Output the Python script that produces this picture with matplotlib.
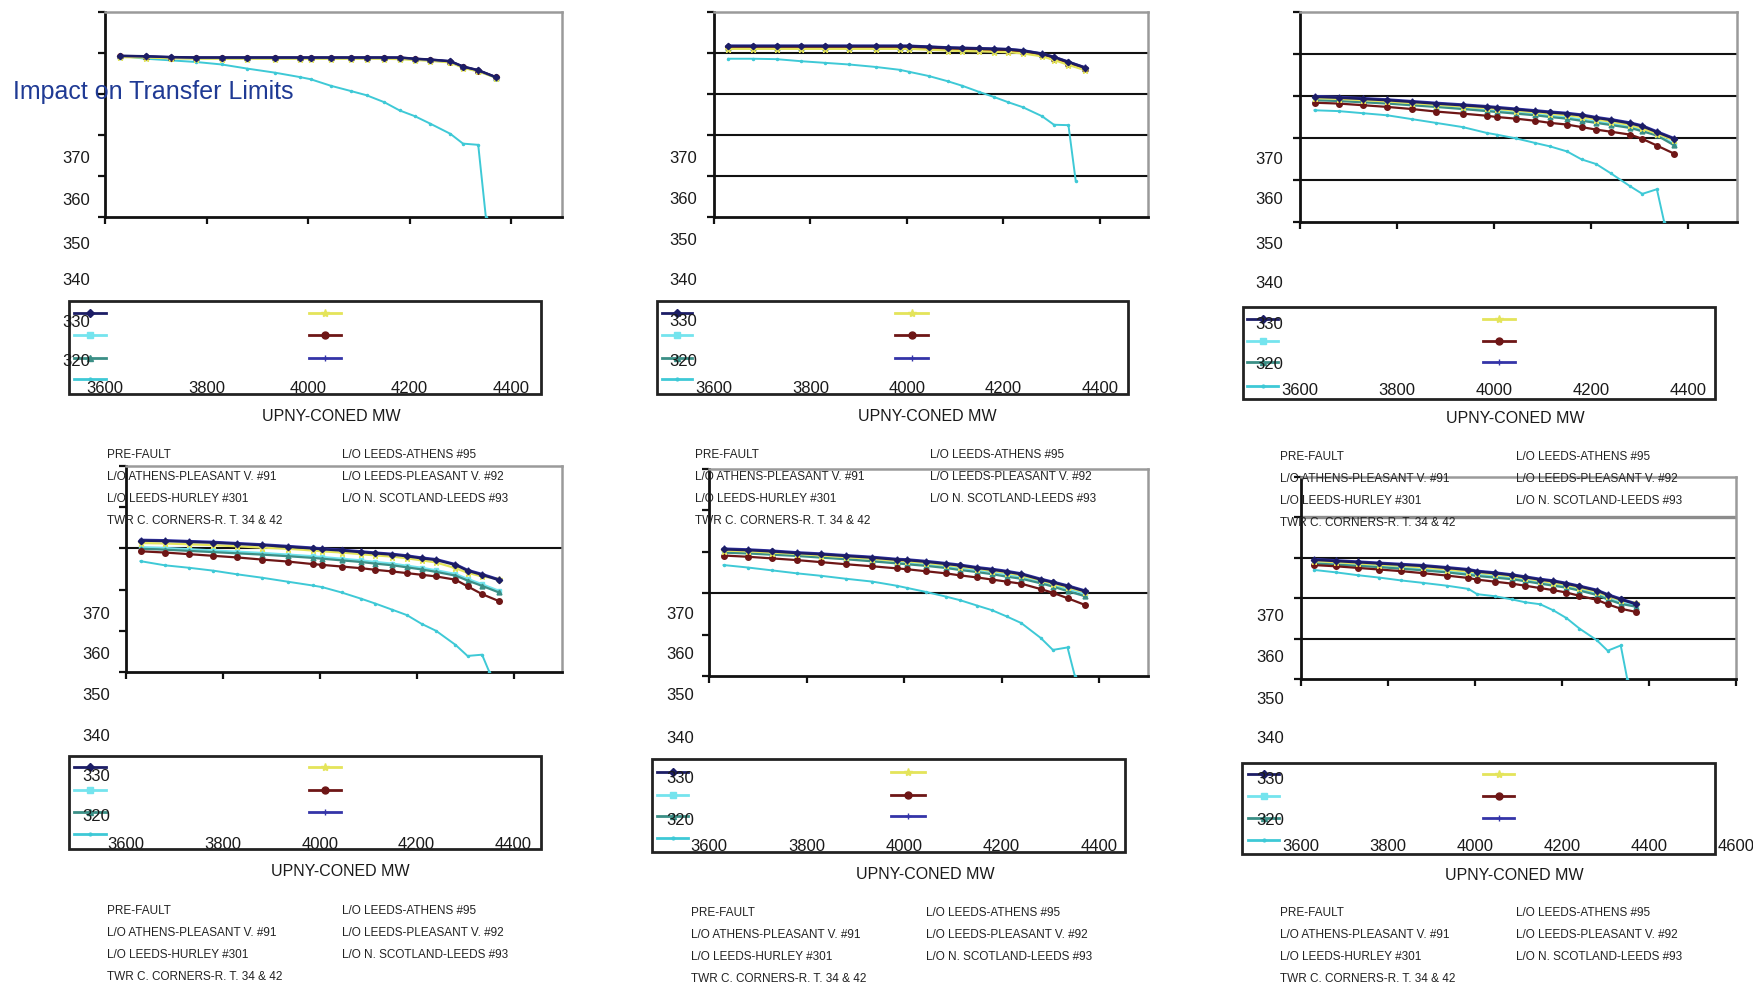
import matplotlib
matplotlib.use('Agg')
import matplotlib.pyplot as plt
import matplotlib.lines as lines
import matplotlib.transforms as mtransforms

plt.rcParams['font.family'] = ['Liberation Sans', 'DejaVu Sans']

W, H = 1753, 987

# ---- data -------------------------------------------------------------
x_mw = [3630, 3680, 3730, 3780, 3830, 3880, 3935, 3985, 4005, 4045,
        4085, 4115, 4150, 4180, 4210, 4240, 4280, 4305, 4335, 4370]
x_twr = [3630, 3680, 3730, 3780, 3830, 3880, 3935, 3985, 4005, 4045,
         4085, 4115, 4150, 4180, 4210, 4240, 4280, 4305, 4335, 4350]

y_ticks = [350, 360, 370, 380, 390, 400]
x_ticks = [3600, 3800, 4000, 4200, 4400]
x_ticks_wide = [3600, 3800, 4000, 4200, 4400, 4600]
float_labels = ['370', '360', '350', '340', '330', '320']

PRE = 'PRE-FAULT'
ATH_PL = 'L/O ATHENS-PLEASANT V. #91'
HURLEY = 'L/O LEEDS-HURLEY #301'
TWR = 'TWR C. CORNERS-R. T. 34 & 42'
ATHENS = 'L/O LEEDS-ATHENS #95'
PLEASANT = 'L/O LEEDS-PLEASANT V. #92'
SCOTLAND = 'L/O N. SCOTLAND-LEEDS #93'
left_names = [PRE, ATH_PL, HURLEY, TWR]
right_names = [ATHENS, PLEASANT, SCOTLAND]

# panel a
pre_a = [389.3, 389.2, 389.0, 388.9, 388.9, 388.9, 388.9, 388.9, 388.9, 388.9, 388.9, 388.9, 388.9, 388.9, 388.6, 388.4, 388.0, 386.7, 385.8, 384.1]
athpl_a = [389.1, 389.0, 388.8, 388.7, 388.7, 388.7, 388.7, 388.7, 388.7, 388.7, 388.7, 388.7, 388.7, 388.6, 388.4, 388.2, 387.8, 386.5, 385.6, 384.0]
hurley_a = [389.2, 389.1, 388.9, 388.8, 388.8, 388.8, 388.8, 388.8, 388.8, 388.8, 388.8, 388.8, 388.8, 388.7, 388.5, 388.3, 387.9, 386.6, 385.7, 384.0]
twr_a = [389.3, 388.6, 388.2, 387.8, 387.2, 386.2, 385.2, 384.1, 383.6, 382.0, 380.7, 379.7, 378.0, 376.0, 374.6, 372.8, 370.3, 367.9, 367.6, 350.0]
athens_a = [389.0, 388.9, 388.7, 388.6, 388.6, 388.6, 388.6, 388.6, 388.6, 388.6, 388.6, 388.6, 388.6, 388.5, 388.3, 388.1, 387.7, 386.4, 385.5, 384.0]
pleasant_a = [389.2, 389.1, 388.9, 388.8, 388.8, 388.8, 388.8, 388.8, 388.8, 388.8, 388.8, 388.8, 388.8, 388.7, 388.5, 388.3, 387.9, 386.6, 385.7, 384.1]
scotland_a = [389.3, 389.2, 389.0, 388.9, 388.9, 388.9, 388.9, 388.9, 388.9, 388.9, 388.9, 388.9, 388.9, 388.9, 388.6, 388.4, 388.0, 386.7, 385.8, 384.1]

# panel b
pre_b = [391.7, 391.7, 391.7, 391.7, 391.7, 391.7, 391.7, 391.7, 391.7, 391.5, 391.3, 391.2, 391.1, 391.0, 390.9, 390.6, 389.8, 389.0, 387.8, 386.4]
athpl_b = [391.5, 391.5, 391.5, 391.5, 391.5, 391.5, 391.5, 391.5, 391.5, 391.3, 391.1, 391.0, 390.9, 390.8, 390.7, 390.4, 389.6, 388.7, 387.5, 386.2]
hurley_b = [391.3, 391.3, 391.3, 391.3, 391.3, 391.3, 391.3, 391.3, 391.3, 391.1, 390.9, 390.8, 390.7, 390.6, 390.5, 390.2, 389.4, 388.5, 387.3, 386.0]
twr_b = [388.6, 388.6, 388.5, 388.0, 387.6, 387.2, 386.6, 385.9, 385.4, 384.4, 383.1, 382.0, 380.5, 379.3, 378.0, 376.8, 374.6, 372.5, 372.4, 358.9]
athens_b = [391.0, 391.0, 391.0, 391.0, 391.0, 391.0, 391.0, 391.0, 391.0, 390.8, 390.6, 390.5, 390.4, 390.3, 390.2, 389.9, 389.2, 388.3, 387.1, 385.8]
pleasant_b = [391.4, 391.4, 391.4, 391.4, 391.4, 391.4, 391.4, 391.4, 391.4, 391.2, 391.0, 390.9, 390.8, 390.7, 390.6, 390.3, 389.5, 388.6, 387.4, 386.1]
scotland_b = [391.8, 391.8, 391.8, 391.8, 391.8, 391.8, 391.8, 391.8, 391.8, 391.6, 391.4, 391.3, 391.2, 391.1, 391.0, 390.7, 389.9, 389.1, 387.9, 386.5]

# panel c
pre_c = [379.8, 379.6, 379.3, 379.0, 378.6, 378.2, 377.8, 377.4, 377.2, 376.8, 376.4, 376.1, 375.8, 375.4, 374.8, 374.3, 373.5, 372.8, 371.4, 369.8]
athpl_c = [379.3, 379.1, 378.8, 378.5, 378.1, 377.7, 377.2, 376.7, 376.5, 376.1, 375.7, 375.3, 374.9, 374.4, 373.9, 373.4, 372.7, 371.9, 370.9, 368.6]
hurley_c = [379.0, 378.8, 378.5, 378.2, 377.8, 377.4, 376.9, 376.4, 376.2, 375.8, 375.4, 375.0, 374.6, 374.1, 373.6, 373.1, 372.4, 371.6, 370.6, 368.3]
twr_c = [376.6, 376.4, 375.9, 375.4, 374.5, 373.6, 372.6, 371.2, 370.8, 369.9, 368.8, 368.0, 366.8, 364.9, 363.8, 361.6, 358.5, 356.7, 357.8, 350.0]
athens_c = [379.5, 379.3, 379.0, 378.7, 378.3, 377.9, 377.5, 377.1, 376.9, 376.5, 376.1, 375.8, 375.4, 375.0, 374.4, 373.9, 373.1, 372.3, 371.0, 369.5]
pleasant_c = [378.4, 378.2, 377.8, 377.4, 376.9, 376.3, 375.8, 375.3, 375.0, 374.6, 374.1, 373.6, 373.2, 372.6, 372.0, 371.5, 370.8, 369.8, 368.2, 366.3]
scotland_c = [380.0, 379.8, 379.5, 379.2, 378.8, 378.4, 378.0, 377.6, 377.4, 377.0, 376.6, 376.3, 376.0, 375.6, 375.0, 374.5, 373.7, 373.0, 371.6, 370.0]

# panel d
pre_d = [381.9, 381.8, 381.6, 381.4, 381.1, 380.8, 380.4, 380.0, 379.8, 379.5, 379.1, 378.8, 378.5, 378.1, 377.6, 377.2, 376.0, 374.6, 373.6, 372.3]
athpl_d = [380.3, 380.1, 379.8, 379.5, 379.2, 378.9, 378.5, 378.1, 377.9, 377.5, 377.1, 376.7, 376.3, 375.8, 375.3, 374.7, 373.8, 372.6, 371.3, 369.7]
hurley_d = [379.9, 379.7, 379.4, 379.1, 378.8, 378.5, 378.1, 377.7, 377.5, 377.1, 376.7, 376.3, 375.9, 375.4, 374.9, 374.3, 373.4, 372.2, 370.9, 369.3]
twr_d = [376.9, 375.9, 375.3, 374.6, 373.7, 372.9, 371.9, 371.0, 370.6, 369.3, 367.8, 366.6, 365.1, 363.8, 361.7, 360.0, 356.6, 353.9, 354.2, 350.0]
athens_d = [381.3, 381.2, 381.0, 380.8, 380.5, 380.2, 379.9, 379.5, 379.3, 379.0, 378.6, 378.3, 378.0, 377.6, 377.1, 376.6, 375.2, 374.1, 373.2, 372.6]
pleasant_d = [379.3, 379.0, 378.6, 378.2, 377.8, 377.3, 376.8, 376.2, 376.0, 375.6, 375.2, 374.8, 374.4, 374.0, 373.6, 373.2, 372.4, 370.8, 368.9, 367.2]
scotland_d = [382.1, 382.0, 381.8, 381.6, 381.3, 381.0, 380.6, 380.2, 380.0, 379.7, 379.3, 379.0, 378.7, 378.3, 377.8, 377.4, 376.2, 374.8, 373.8, 372.5]

# panel e
pre_e = [380.6, 380.4, 380.1, 379.7, 379.4, 379.0, 378.6, 378.1, 378.0, 377.6, 377.1, 376.7, 376.1, 375.7, 375.2, 374.6, 373.3, 372.6, 371.7, 370.5]
athpl_e = [380.1, 379.9, 379.6, 379.3, 378.9, 378.5, 378.1, 377.6, 377.4, 377.0, 376.5, 376.1, 375.6, 375.1, 374.5, 374.0, 372.8, 372.0, 371.0, 369.8]
hurley_e = [379.8, 379.6, 379.3, 379.0, 378.6, 378.2, 377.7, 377.2, 377.0, 376.6, 376.1, 375.6, 375.1, 374.6, 374.0, 373.5, 372.4, 371.6, 370.5, 369.3]
twr_e = [376.8, 376.2, 375.5, 374.8, 374.2, 373.5, 372.8, 371.8, 371.3, 370.3, 369.2, 368.3, 367.0, 365.9, 364.4, 362.8, 359.2, 356.3, 356.9, 350.0]
athens_e = [380.3, 380.1, 379.8, 379.5, 379.1, 378.7, 378.3, 377.8, 377.7, 377.3, 376.8, 376.4, 375.9, 375.4, 374.9, 374.3, 373.1, 372.3, 371.4, 370.3]
pleasant_e = [379.1, 378.8, 378.4, 378.0, 377.5, 377.0, 376.5, 376.0, 375.8, 375.3, 374.8, 374.3, 373.8, 373.3, 372.8, 372.3, 371.0, 370.1, 368.8, 367.2]
scotland_e = [380.8, 380.6, 380.3, 379.9, 379.6, 379.2, 378.8, 378.3, 378.2, 377.8, 377.3, 376.9, 376.3, 375.9, 375.4, 374.8, 373.5, 372.8, 371.9, 370.7]

# panel f
pre_f = [379.5, 379.2, 378.9, 378.6, 378.3, 378.0, 377.5, 377.0, 376.6, 376.2, 375.7, 375.2, 374.6, 374.2, 373.6, 372.9, 371.9, 370.8, 369.7, 368.5]
athpl_f = [378.9, 378.6, 378.3, 378.0, 377.6, 377.2, 376.7, 376.2, 375.9, 375.5, 375.0, 374.5, 373.9, 373.4, 372.9, 372.2, 371.1, 370.0, 368.9, 368.1]
hurley_f = [378.6, 378.3, 378.0, 377.7, 377.3, 376.9, 376.4, 375.8, 375.5, 375.1, 374.7, 374.2, 373.6, 373.1, 372.6, 371.9, 370.8, 369.7, 368.6, 367.9]
twr_f = [377.0, 376.4, 375.7, 375.1, 374.4, 373.8, 373.1, 372.3, 371.0, 370.5, 369.7, 369.0, 368.5, 367.0, 365.1, 362.5, 359.6, 357.0, 358.3, 350.0]
athens_f = [379.2, 378.9, 378.6, 378.3, 378.0, 377.6, 377.1, 376.6, 376.3, 375.9, 375.4, 374.9, 374.3, 373.8, 373.3, 372.6, 371.6, 370.5, 369.5, 368.9]
pleasant_f = [378.2, 377.9, 377.5, 377.1, 376.7, 376.2, 375.6, 375.0, 374.6, 374.1, 373.6, 373.1, 372.5, 372.0, 371.4, 370.6, 369.6, 368.5, 367.4, 366.6]
scotland_f = [379.7, 379.4, 379.1, 378.8, 378.5, 378.2, 377.7, 377.2, 376.8, 376.4, 375.9, 375.4, 374.8, 374.4, 373.8, 373.1, 372.1, 371.0, 369.9, 368.7]

panel_data = [
    {PRE: pre_a, ATH_PL: athpl_a, HURLEY: hurley_a, TWR: twr_a, ATHENS: athens_a, PLEASANT: pleasant_a, SCOTLAND: scotland_a},
    {PRE: pre_b, ATH_PL: athpl_b, HURLEY: hurley_b, TWR: twr_b, ATHENS: athens_b, PLEASANT: pleasant_b, SCOTLAND: scotland_b},
    {PRE: pre_c, ATH_PL: athpl_c, HURLEY: hurley_c, TWR: twr_c, ATHENS: athens_c, PLEASANT: pleasant_c, SCOTLAND: scotland_c},
    {PRE: pre_d, ATH_PL: athpl_d, HURLEY: hurley_d, TWR: twr_d, ATHENS: athens_d, PLEASANT: pleasant_d, SCOTLAND: scotland_d},
    {PRE: pre_e, ATH_PL: athpl_e, HURLEY: hurley_e, TWR: twr_e, ATHENS: athens_e, PLEASANT: pleasant_e, SCOTLAND: scotland_e},
    {PRE: pre_f, ATH_PL: athpl_f, HURLEY: hurley_f, TWR: twr_f, ATHENS: athens_f, PLEASANT: pleasant_f, SCOTLAND: scotland_f},
]

# ---- styles ------------------------------------------------------------
styles = {
    TWR:      dict(color='#3ec9d6', marker='.', ms=3, lw=1.4),
    ATH_PL:   dict(color='#74e4ee', marker='s', ms=3, lw=1.6),
    HURLEY:   dict(color='#3b8f86', marker='^', ms=3.5, lw=1.6),
    PLEASANT: dict(color='#6e1616', marker='o', ms=4, lw=1.6),
    ATHENS:   dict(color='#e4e45a', marker='*', ms=5, lw=1.6),
    SCOTLAND: dict(color='#3434a8', marker='+', ms=4, lw=1.6),
    PRE:      dict(color='#1c1d66', marker='D', ms=3.2, lw=1.8),
}
draw_order = [TWR, ATH_PL, HURLEY, PLEASANT, ATHENS, SCOTLAND, PRE]

GRID_DARK = '#111111'
GRID_GREY = '#8c8c8c'

# layout of each panel in pixels (left, top, right, bottom)
panels = [
    dict(box=(105, 13, 562, 218), xmax=4500, xt=x_ticks, grid=[], xlab_y=387,
         ylab_x=90, ylab_ys=[157, 199, 243, 279, 321, 360], axlab=(331, 415),
         leg=(69, 302, 541, 395), hl=(74, 106), hr=(309, 341), rows=[314, 336, 359, 380],
         txt=(107, 342, [455, 477, 499, 521])),
    dict(box=(714, 13, 1148, 218), xmax=4500, xt=x_ticks,
         grid=[(360, GRID_DARK), (370, GRID_DARK), (380, GRID_DARK), (390, GRID_DARK)], xlab_y=387,
         ylab_x=697, ylab_ys=[157, 198, 239, 279, 320, 360], axlab=(927, 415),
         leg=(657, 302, 1128, 395), hl=(662, 692), hr=(895, 928), rows=[314, 336, 359, 380],
         txt=(695, 930, [455, 477, 499, 521])),
    dict(box=(1300, 13, 1737, 223), xmax=4500, xt=x_ticks,
         grid=[(360, GRID_DARK), (370, GRID_DARK), (380, GRID_DARK), (390, GRID_DARK)], xlab_y=389,
         ylab_x=1283, ylab_ys=[158, 198, 243, 282, 323, 363], axlab=(1515, 417),
         leg=(1243, 308, 1715, 400), hl=(1247, 1278), hr=(1483, 1515), rows=[320, 342, 363, 387],
         txt=(1280, 1516, [457, 479, 501, 523])),
    dict(box=(126, 467, 562, 673), xmax=4500, xt=x_ticks, grid=[(380, GRID_DARK)], xlab_y=843,
         ylab_x=110, ylab_ys=[613, 653, 694, 735, 775, 815], axlab=(340, 870),
         leg=(69, 757, 541, 850), hl=(74, 106), hr=(309, 341), rows=[768, 791, 813, 835],
         txt=(107, 342, [911, 933, 955, 977])),
    dict(box=(709, 470, 1148, 677), xmax=4500, xt=x_ticks, grid=[(370, GRID_DARK)], xlab_y=845,
         ylab_x=694, ylab_ys=[613, 653, 694, 737, 777, 819], axlab=(925, 873),
         leg=(652, 760, 1125, 853), hl=(657, 688), hr=(891, 925), rows=[773, 796, 817, 839],
         txt=(691, 926, [913, 935, 957, 979])),
    dict(box=(1301, 478, 1736, 680), xmax=4600, xt=x_ticks_wide,
         grid=[(360, GRID_DARK), (370, GRID_DARK), (380, GRID_DARK), (390, GRID_GREY)], xlab_y=845,
         ylab_x=1284, ylab_ys=[615, 656, 698, 737, 778, 819], axlab=(1514, 874),
         leg=(1242, 764, 1715, 855), hl=(1248, 1279), hr=(1483, 1514), rows=[775, 797, 819, 841],
         txt=(1280, 1516, [913, 935, 957, 979])),
]


def fx(x):
    return x / W


def fy(y):
    return 1 - y / H


fig = plt.figure(figsize=(W / 100, H / 100), dpi=100)
fig.patch.set_facecolor('white')

for p, data in zip(panels, panel_data):
    l, t, r, b = p['box']
    ax = fig.add_axes([fx(l), fy(b), (r - l) / W, (b - t) / H])
    ax.set_xlim(3600, p['xmax'])
    ax.set_ylim(350, 400)
    ax.set_xticks(p['xt'])
    ax.set_yticks(y_ticks)
    ax.tick_params(labelbottom=False, labelleft=False, direction='out',
                   length=5, width=1.6, color='#111111')
    for side in ['top', 'right']:
        ax.spines[side].set_color('#9a9a9a')
        ax.spines[side].set_linewidth(1.8)
    for side in ['left', 'bottom']:
        ax.spines[side].set_color('#111111')
        ax.spines[side].set_linewidth(2.0)
    for g, gc in p['grid']:
        ax.axhline(g, color=gc, lw=1.5 if gc == GRID_DARK else 2.4, zorder=1)

    for name in draw_order:
        st = styles[name]
        xs = x_twr if name == TWR else x_mw
        ax.plot(xs, data[name], color=st['color'], lw=st['lw'], marker=st['marker'],
                ms=st['ms'], mec=st['color'], zorder=3)

    # x tick values sit at the tick positions but lower down, inside the legend frame
    xtr = mtransforms.blended_transform_factory(ax.transData, fig.transFigure)
    for v in p['xt']:
        fig.text(v, fy(p['xlab_y'] + 6), str(v), transform=xtr, ha='center', va='baseline',
                 fontsize=12, color='#1a1a1a', zorder=6)

    for lab, yy in zip(float_labels, p['ylab_ys']):
        fig.text(fx(p['ylab_x']), fy(yy + 6), lab, ha='right', va='baseline',
                 fontsize=12, color='#1a1a1a', zorder=6)

    fig.text(fx(p['axlab'][0]), fy(p['axlab'][1] + 6), 'UPNY-CONED MW', ha='center',
             va='baseline', fontsize=11.5, color='#1a1a1a', zorder=6)

    # legend frame with handle samples
    ll, lt, lr, lb = p['leg']
    fig.add_artist(plt.Rectangle((fx(ll), fy(lb)), (lr - ll) / W, (lb - lt) / H,
                                 transform=fig.transFigure, facecolor='white',
                                 edgecolor='#222222', lw=2.0, zorder=2))
    for names, (h0, h1) in [(left_names, p['hl']), (right_names, p['hr'])]:
        for name, row in zip(names, p['rows']):
            st = styles[name]
            fig.add_artist(lines.Line2D([fx(h0), fx((h0 + h1) / 2), fx(h1)], [fy(row)] * 3,
                                        transform=fig.transFigure, color=st['color'],
                                        lw=2.0, marker=st['marker'], ms=st['ms'] + 1,
                                        markevery=[1], zorder=4))

    tl, tr, trows = p['txt']
    for name, row in zip(left_names, trows):
        fig.text(fx(tl), fy(row + 3.5), name, ha='left', va='baseline',
                 fontsize=8.5, color='#222222', zorder=6)
    for name, row in zip(right_names, trows):
        fig.text(fx(tr), fy(row + 3.5), name, ha='left', va='baseline',
                 fontsize=8.5, color='#222222', zorder=6)

fig.text(fx(13), fy(99), 'Impact on Transfer Limits', ha='left', va='baseline',
         fontsize=18, color='#1f3a94', zorder=7)

fig.savefig('out.png', dpi=100, facecolor='white')
